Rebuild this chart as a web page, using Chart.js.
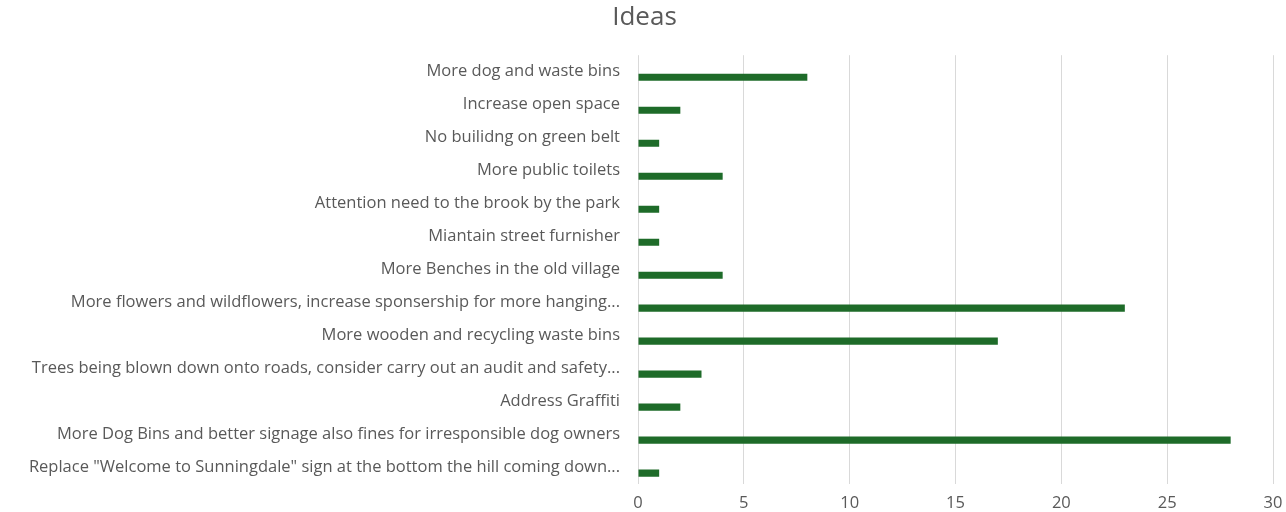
<!DOCTYPE html>
<html>
<head>
<meta charset="utf-8">
<script src="https://cdn.jsdelivr.net/npm/chart.js@4/dist/chart.umd.min.js"></script>
<style>
  html, body { margin: 0; padding: 0; background: #fff; }
  #wrap { width: 1286px; height: 512px; }
</style>
</head>
<body>
<div id="wrap"><canvas id="myChart"></canvas></div>
<script>
var categories = [
    "More dog and waste bins",
    "Increase open space",
    "No builidng on green belt",
    "More public toilets",
    "Attention need to the brook by the park",
    "Miantain street furnisher",
    "More Benches in the old village",
    "More flowers and wildflowers, increase sponsership for more hanging...",
    "More wooden and recycling waste bins",
    "Trees being blown down onto roads, consider carry out an audit and safety...",
    "Address Graffiti",
    "More Dog Bins and better signage also fines for irresponsible dog owners",
    "Replace \"Welcome to Sunningdale\" sign at the bottom the hill coming down..."
];
var counts = [8, 2, 1, 4, 1, 1, 4, 23, 17, 3, 2, 28, 1];
var emptySeries = [null, null, null, null, null, null, null, null, null, null, null, null, null];
var xTicks = [0, 5, 10, 15, 20, 25, 30];

var grey = '#595959';
var labelFont = { family: "'Open Sans', sans-serif", size: 16.5 };

window.onload = function () {
    var ctx = document.getElementById('myChart').getContext('2d');
    var chart = new Chart(ctx, {
        type: 'bar',
        data: {
            labels: categories,
            datasets: [{
                label: '',
                data: emptySeries,
                backgroundColor: 'rgba(0,0,0,0)'
            }, {
                label: 'Ideas',
                data: counts,
                backgroundColor: '#1e6b29',
                borderWidth: 0
            }]
        },
        options: {
            indexAxis: 'y',
            responsive: true,
            maintainAspectRatio: false,
            animation: false,
            categoryPercentage: 0.667,
            barPercentage: 0.64,
            layout: { padding: { left: 16, right: 13, top: 0, bottom: 0 } },
            plugins: {
                legend: { display: false },
                tooltip: { enabled: false },
                title: {
                    display: true,
                    text: 'Ideas',
                    color: grey,
                    font: { family: "'Open Sans', sans-serif", size: 26, weight: 'normal' },
                    padding: { top: 2, bottom: 22 }
                }
            },
            scales: {
                x: {
                    min: 0,
                    max: 30,
                    afterBuildTicks: function (scale) {
                        scale.ticks = xTicks.map(function (v) { return { value: v }; });
                    },
                    afterFit: function (scale) {
                        scale.height = 27;
                        scale.paddingRight = 0;
                        scale.paddingLeft = 0;
                    },
                    grid: { color: '#d9d9d9', drawTicks: false },
                    border: { display: false },
                    ticks: { color: grey, font: labelFont, padding: 9 }
                },
                y: {
                    afterFit: function (scale) { scale.width = 622; },
                    grid: { display: false, drawTicks: false },
                    border: { display: false },
                    ticks: { color: grey, font: labelFont, padding: 18, autoSkip: false }
                }
            }
        }
    });
};
</script>
</body>
</html>
